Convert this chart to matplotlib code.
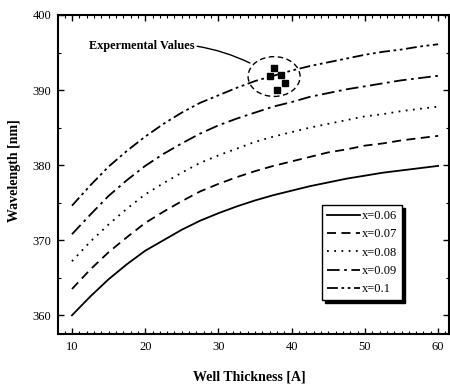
import matplotlib
matplotlib.use("Agg")
import matplotlib.pyplot as plt
from matplotlib.patches import Ellipse
from matplotlib.ticker import MultipleLocator

# ---- data ----
thickness = [10, 12.5, 15, 17.5, 20, 22.5, 25, 27.5, 30, 32.5, 35, 37.5, 40,
             42.5, 45, 47.5, 50, 52.5, 55, 57.5, 60]
wl_006 = [360.0, 362.5, 364.8, 366.8, 368.6, 370.0, 371.4, 372.6, 373.6, 374.5, 375.3,
          376.0, 376.6, 377.2, 377.7, 378.2, 378.6, 379.0, 379.3, 379.6, 379.9]
wl_007 = [363.5, 366.1, 368.4, 370.4, 372.3, 373.8, 375.2, 376.5, 377.5, 378.4, 379.2,
          379.9, 380.5, 381.1, 381.7, 382.1, 382.6, 382.9, 383.3, 383.6, 383.9]
wl_008 = [367.2, 369.8, 372.1, 374.2, 376.1, 377.6, 379.0, 380.3, 381.3, 382.2, 383.1,
          383.8, 384.4, 385.0, 385.5, 386.0, 386.5, 386.8, 387.2, 387.5, 387.8]
wl_009 = [370.8, 373.4, 375.9, 378.0, 379.9, 381.5, 382.9, 384.2, 385.3, 386.2, 387.0,
          387.8, 388.4, 389.1, 389.6, 390.1, 390.5, 390.9, 391.3, 391.6, 391.9]
wl_010 = [374.6, 377.3, 379.8, 381.9, 383.8, 385.5, 387.0, 388.3, 389.3, 390.3, 391.2,
          391.9, 392.6, 393.2, 393.7, 394.2, 394.7, 395.1, 395.4, 395.8, 396.1]
labels = ["x=0.06", "x=0.07", "x=0.08", "x=0.09", "x=0.1"]

exp_x = [37.6, 37.1, 38.55, 39.1, 38.05]
exp_y = [393.0, 391.9, 392.0, 391.0, 390.0]
ellipse_center = (37.6, 391.8)
ellipse_w, ellipse_h = 7.1, 5.3
note_text = "Expermental Values"
note_xy = (34.3, 393.6)
note_text_xy = (12.3, 395.9)

plt.rcParams['font.family'] = ['Liberation Serif', 'DejaVu Serif']

fig = plt.figure(figsize=(4.5, 3.84), dpi=100)
ax = fig.add_axes([0.129, 0.130, 0.869, 0.831])

styles = ['-', (0, (5, 3)), (0, (1, 3)), (0, (7, 2.5, 1.5, 2.5)), (0, (6, 2, 1.5, 2, 1.5, 2))]
series = [wl_006, wl_007, wl_008, wl_009, wl_010]
for ys, ls, lab in zip(series, styles, labels):
    ax.plot(thickness, ys, color='black', linestyle=ls, linewidth=1.3, label=lab)

ax.plot(exp_x, exp_y, linestyle='none', marker='s', markersize=4.5, color='black')
ax.add_patch(Ellipse(ellipse_center, ellipse_w, ellipse_h, fill=False,
                     linestyle=(0, (4, 2.5)), linewidth=1.0, edgecolor='black'))
ax.annotate(note_text, xy=note_xy, xytext=note_text_xy, fontsize=8.8, fontweight='bold',
            va='center', ha='left',
            arrowprops=dict(arrowstyle='-', color='black', lw=1.0,
                            connectionstyle='arc3,rad=-0.15', shrinkA=0, shrinkB=0))

ax.set_xlim(8.1, 61.5)
ax.set_ylim(357.5, 400)
ax.xaxis.set_major_locator(MultipleLocator(10))
ax.xaxis.set_minor_locator(MultipleLocator(1))
ax.yaxis.set_major_locator(MultipleLocator(10))
ax.yaxis.set_minor_locator(MultipleLocator(5))
ax.tick_params(which='major', direction='in', length=4, width=1.0, top=True, right=True,
               labelsize=9, pad=5)
ax.tick_params(which='minor', direction='in', length=2, width=0.8, top=True, right=True)
for s in ax.spines.values():
    s.set_linewidth(1.5)

ax.set_xlabel("Well Thickness [A]", fontsize=10, fontweight='bold')
ax.set_ylabel("Wavelength [nm]", fontsize=10, fontweight='bold')
ax.xaxis.set_label_coords(0.49, -0.115)
ax.yaxis.set_label_coords(-0.095, 0.513)

leg = ax.legend(loc='upper left', bbox_to_anchor=(0.675, 0.404), borderaxespad=0,
                fontsize=9, frameon=True, fancybox=False,
                shadow=dict(color='black', alpha=1.0, ox=2, oy=-2),
                handlelength=2.6, handletextpad=0.2, labelspacing=0.5,
                borderpad=0.4)
leg.get_frame().set_edgecolor('black')
leg.get_frame().set_linewidth(1.0)

fig.savefig("out.png", dpi=100)
